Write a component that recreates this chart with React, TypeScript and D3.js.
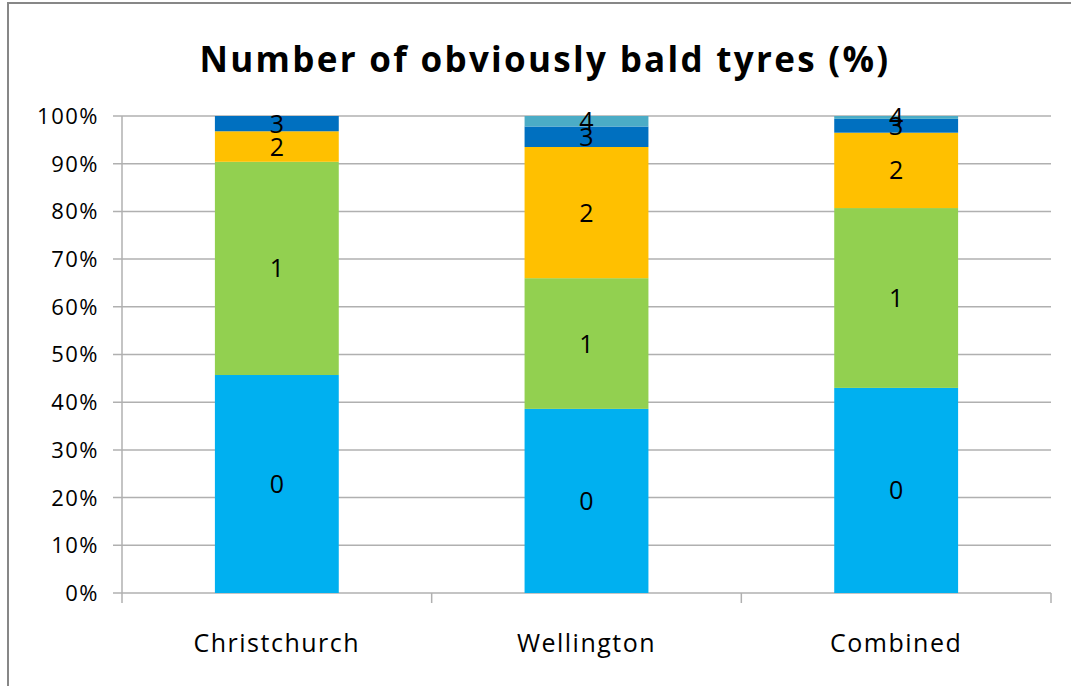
import React from "react";
import * as d3 from "d3";

const categories = ["Christchurch", "Wellington", "Combined"];
const seriesKeys = ["0", "1", "2", "3", "4"];
const christchurch = [45.7, 44.7, 6.4, 3.2, 0];
const wellington = [38.6, 27.4, 27.5, 4.3, 2.2];
const combined = [43.0, 37.7, 15.8, 2.9, 0.6];
const seriesColors = ["#00B0F0", "#92D050", "#FFC000", "#0070C0", "#4BACC6"];
const yTicks = [0, 10, 20, 30, 40, 50, 60, 70, 80, 90, 100];

const W = 1071;
const H = 686;
const plot = { left: 122, right: 1051, top: 116, bottom: 593 };
const FONT = "'Open Sans', 'DejaVu Sans', sans-serif";

export default function App() {
  const rows = [christchurch, wellington, combined].map((vals, i) => {
    const r: Record<string, any> = { category: categories[i] };
    seriesKeys.forEach((k, j) => (r[k] = vals[j]));
    return r;
  });
  const stacked = d3.stack().keys(seriesKeys)(rows as any);

  const x = d3
    .scaleBand()
    .domain(categories)
    .range([plot.left, plot.right])
    .paddingInner(0.6)
    .paddingOuter(0.3);
  const y = d3.scaleLinear().domain([0, 100]).range([plot.bottom, plot.top]);
  const band = (plot.right - plot.left) / categories.length;

  return (
    <svg
      width={W}
      height={H}
      style={{ position: "absolute", left: 0, top: 0, background: "#fff" }}
    >
      <rect x={0} y={0} width={W} height={H} fill="#fff" />
      {/* chart frame */}
      <rect x={8} y={3} width={W + 20} height={H + 20} fill="none" stroke="#878787" strokeWidth={2} />
      <text
        x={545}
        y={72}
        textAnchor="middle"
        fontFamily={FONT}
        fontWeight={700}
        fontSize={35}
        letterSpacing={2.3}
        fill="#000"
      >
        Number of obviously bald tyres (%)
      </text>
      {/* gridlines and y labels */}
      {yTicks.map((t) => (
        <g key={t}>
          <line
            x1={plot.left - 9}
            x2={plot.right}
            y1={y(t)}
            y2={y(t)}
            stroke="#b0b0b0"
            strokeWidth={1.5}
          />
          <text
            x={99}
            y={y(t)}
            dy="0.36em"
            textAnchor="end"
            fontFamily={FONT}
            fontSize={22}
            letterSpacing={1.5}
            fill="#000"
          >
            {t}%
          </text>
        </g>
      ))}
      <line x1={plot.left} x2={plot.left} y1={plot.top} y2={plot.bottom} stroke="#b0b0b0" strokeWidth={1.5} />
      {d3.range(categories.length + 1).map((i) => (
        <line
          key={i}
          x1={plot.left + i * band}
          x2={plot.left + i * band}
          y1={plot.bottom}
          y2={plot.bottom + 10}
          stroke="#b0b0b0"
          strokeWidth={1.5}
        />
      ))}
      {/* stacked bars */}
      {stacked.map((s, si) => (
        <g key={s.key}>
          {s.map((d: any) => {
            const cat = d.data.category as string;
            if (d[1] - d[0] <= 0) return null;
            return (
              <rect
                key={cat}
                x={x(cat)}
                width={x.bandwidth()}
                y={y(d[1])}
                height={y(d[0]) - y(d[1])}
                fill={seriesColors[si]}
              />
            );
          })}
        </g>
      ))}
      {stacked.map((s) => (
        <g key={"l" + s.key}>
          {s.map((d: any) => {
            const cat = d.data.category as string;
            if (d[1] - d[0] <= 0) return null;
            return (
              <text
                key={cat}
                x={(x(cat) as number) + x.bandwidth() / 2}
                y={y((d[0] + d[1]) / 2)}
                dy="0.36em"
                textAnchor="middle"
                fontFamily={FONT}
                fontSize={25}
                fill="#000"
              >
                {s.key}
              </text>
            );
          })}
        </g>
      ))}
      {categories.map((c) => (
        <text
          key={c}
          x={(x(c) as number) + x.bandwidth() / 2}
          y={652}
          textAnchor="middle"
          fontFamily={FONT}
          fontSize={25}
          letterSpacing={1.5}
          fill="#000"
        >
          {c}
        </text>
      ))}
    </svg>
  );
}
